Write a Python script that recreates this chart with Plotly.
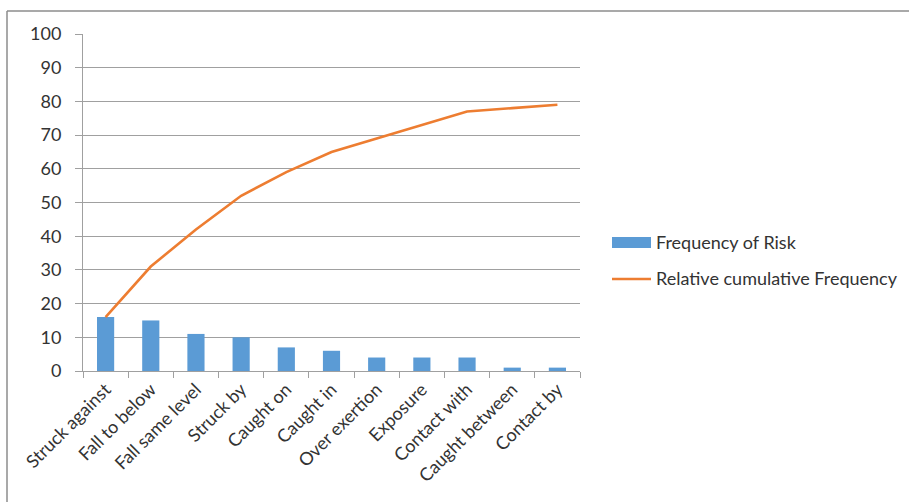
import plotly.graph_objects as go

# Pareto of accident risk types
categories = ["Struck against", "Fall to below", "Fall same level", "Struck by",
              "Caught on", "Caught in", "Over exertion", "Exposure",
              "Contact with", "Caught between", "Contact by"]
frequency = [16, 15, 11, 10, 7, 6, 4, 4, 4, 1, 1]
cumulative = [16, 31, 42, 52, 59, 65, 69, 73, 77, 78, 79]
y_ticks = [0, 10, 20, 30, 40, 50, 60, 70, 80, 90, 100]

W, H = 909, 502
L, R, T, B = 83, 329, 34, 131
FONT = "Lato"
TEXT = "#333333"
GRID = "#a0a0a0"
FS = 18

pw, ph = W - L - R, H - T - B


def px_x(x):
    return (x - L) / pw


def px_y(y):
    return 1 - (y - T) / ph


fig = go.Figure()
fig.add_bar(x=categories, y=frequency, name="Frequency of Risk",
            marker=dict(color="#5b9bd5", line=dict(width=0)))
fig.add_scatter(x=categories, y=cumulative, mode="lines",
                name="Relative cumulative Frequency",
                line=dict(color="#ed7d31", width=2.6))

fig.update_layout(
    width=W, height=H,
    margin=dict(l=L, r=R, t=T, b=B, pad=0),
    paper_bgcolor="white", plot_bgcolor="white",
    showlegend=False, bargap=0.62,
    font=dict(family=FONT, color=TEXT),
)
fig.update_xaxes(
    type="category", tickangle=-45, tickson="boundaries", ticks="outside",
    ticklen=6, tickcolor=GRID, showline=True, linecolor=GRID, linewidth=1,
    showgrid=False, tickfont=dict(size=FS, family=FONT, color=TEXT),
)
fig.update_yaxes(
    range=[0, 100], tickvals=y_ticks, ticks="outside", ticklen=7,
    tickcolor=GRID, showline=True, linecolor=GRID, linewidth=1,
    showgrid=True, gridcolor=GRID, gridwidth=1, zeroline=False,
    ticklabelstandoff=10, tickfont=dict(size=FS, family=FONT, color=TEXT),
)

# outer frame (top and left edges)
frame = dict(color="#8c8c8c", width=1.5)
fig.add_shape(type="line", xref="paper", yref="paper",
              x0=px_x(7), x1=px_x(W + 5), y0=px_y(11), y1=px_y(11), line=frame)
fig.add_shape(type="line", xref="paper", yref="paper",
              x0=px_x(7), x1=px_x(7), y0=px_y(11), y1=px_y(H + 5), line=frame)

# legend
fig.add_shape(type="rect", xref="paper", yref="paper",
              x0=px_x(612), x1=px_x(651), y0=px_y(237), y1=px_y(248),
              fillcolor="#5b9bd5", line=dict(width=0))
fig.add_shape(type="line", xref="paper", yref="paper",
              x0=px_x(612), x1=px_x(651), y0=px_y(279), y1=px_y(279),
              line=dict(color="#ed7d31", width=2.6))
for label, yc in [("Frequency of Risk", 242), ("Relative cumulative Frequency", 278)]:
    fig.add_annotation(text=label, xref="paper", yref="paper",
                       x=px_x(654), y=px_y(yc), xanchor="left", yanchor="middle",
                       showarrow=False, font=dict(size=FS, family=FONT, color=TEXT))

fig.write_html("out.html")
